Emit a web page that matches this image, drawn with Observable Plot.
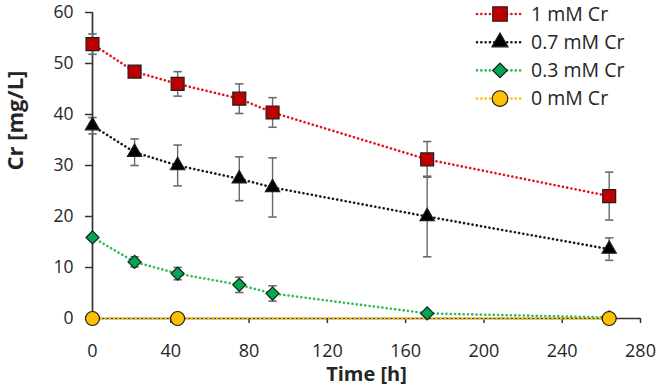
<!DOCTYPE html>
<html>
<head>
<meta charset="utf-8">
<script src="https://cdn.jsdelivr.net/npm/d3@7"></script>
<script src="https://cdn.jsdelivr.net/npm/@observablehq/plot@0.6"></script>
<style>
  html, body { margin: 0; padding: 0; background: #fff; }
  #chart { width: 661px; height: 390px; }
  #chart svg { overflow: visible; }
</style>
</head>
<body>
<div id="chart"></div>
<script>
// Sampling times (h)
const times = [0, 21.5, 43.5, 75, 92, 171, 264];

// Cr concentration (mg/L) and standard deviation per treatment
const cr1 = [53.8, 48.4, 46.0, 43.1, 40.4, 31.2, 24.0];
const cr1Err = [2.0, 0.8, 2.4, 2.9, 2.9, 3.5, 4.7];
const cr07 = [37.8, 32.6, 30.0, 27.4, 25.7, 20.0, 13.6];
const cr07Err = [1.6, 2.6, 4.0, 4.3, 5.8, 7.9, 2.2];
const cr03 = [15.9, 11.1, 8.8, 6.6, 4.9, 1.0, 0.2];
const cr03Err = [0.4, 1.0, 1.2, 1.5, 1.5, 0.3, 0];
const times0 = [0, 43.5, 264];
const cr0 = [0, 0, 0];
const cr0Err = [0, 0, 0];

// Series labels and axis ticks
const seriesNames = ["1 mM Cr", "0.7 mM Cr", "0.3 mM Cr", "0 mM Cr"];
const xTicks = [0, 40, 80, 120, 160, 200, 240, 280];
const yTicks = [0, 10, 20, 30, 40, 50, 60];

// Styling per series
const styles = [
  {line: "#e3141c", fill: "#c00000", symbol: "square", r: 7.3, rotate: 0},
  {line: "#1a1a1a", fill: "#000000", symbol: "triangle", r: 5.3, rotate: 0},
  {line: "#2ebd4e", fill: "#00a84f", symbol: "square", r: 5.2, rotate: 45},
  {line: "#ffc000", fill: "#ffc000", symbol: "circle", r: 7, rotate: 0}
];

const build = (ts, vs, es, name) => ts.map((t, i) => ({t, v: vs[i], e: es[i], name}));
const series = [
  build(times, cr1, cr1Err, seriesNames[0]),
  build(times, cr07, cr07Err, seriesNames[1]),
  build(times, cr03, cr03Err, seriesNames[2]),
  build(times0, cr0, cr0Err, seriesNames[3])
];

// Horizontal cap for error bars; half-width equals the dot radius
const capSymbol = {
  draw(context, size) {
    const w = Math.sqrt(size / Math.PI);
    context.moveTo(-w, 0);
    context.lineTo(w, 0);
  }
};

const axisColor = "#333333";
const textColor = "#262626";

const marks = [
  Plot.axisX({ticks: xTicks, tickSize: 5, tickPadding: 21, label: null, stroke: axisColor, strokeWidth: 1.5, fill: textColor, fontSize: 18}),
  Plot.axisY({ticks: yTicks, tickSize: 7, tickPadding: 12, label: null, stroke: axisColor, strokeWidth: 1.5, fill: textColor, fontSize: 17.5}),
  Plot.ruleX([0], {stroke: axisColor, strokeWidth: 1.7}),
  Plot.ruleY([0], {stroke: axisColor, strokeWidth: 1.7})
];

// Dotted connecting lines
series.forEach((s, i) => {
  marks.push(Plot.line(s, {
    x: "t", y: "v", stroke: styles[i].line, strokeWidth: 2.6,
    strokeDasharray: "0.1 4.2", strokeLinecap: "round"
  }));
});

// Error bars
series.forEach((s) => {
  const withErr = s.filter(d => d.e > 0);
  marks.push(Plot.ruleX(withErr, {x: "t", y1: d => d.v - d.e, y2: d => d.v + d.e, stroke: "#6a6a6a", strokeWidth: 1.4}));
  marks.push(Plot.dot(withErr, {x: "t", y: d => d.v + d.e, symbol: capSymbol, r: 4.2, stroke: "#6a6a6a", strokeWidth: 1.6}));
  marks.push(Plot.dot(withErr, {x: "t", y: d => d.v - d.e, symbol: capSymbol, r: 4.2, stroke: "#6a6a6a", strokeWidth: 1.6}));
});

// Markers
series.forEach((s, i) => {
  const st = styles[i];
  marks.push(Plot.dot(s, {
    x: "t", y: "v", symbol: st.symbol, r: st.r, rotate: st.rotate,
    fill: st.fill, stroke: "#1e1e1e", strokeWidth: 1.2
  }));
});

// Axis titles
marks.push(Plot.text(["Time [h]"], {
  frameAnchor: "bottom", dy: 56, lineAnchor: "middle",
  fontWeight: "bold", fontSize: 20, fill: textColor
}));
marks.push(Plot.text(["Cr [mg/L]"], {
  frameAnchor: "left", rotate: -90, dx: -77, dy: 5, lineAnchor: "middle",
  fontWeight: "bold", fontSize: 22, fill: textColor
}));

// Legend in the upper-right corner of the plot area
marks.push(() => {
  const g = d3.create("svg:g").attr("text-anchor", "start");
  const x0 = 477, x1 = 523, xm = 500, xt = 531, y0 = 14, step = 28.2;
  seriesNames.forEach((name, i) => {
    const st = styles[i];
    const y = y0 + i * step;
    const row = g.append("g").attr("transform", `translate(0,${y})`);
    row.append("line")
      .attr("x1", x0).attr("x2", x1).attr("y1", 0).attr("y2", 0)
      .attr("stroke", st.line).attr("stroke-width", 2.6)
      .attr("stroke-dasharray", "0.1 4.2").attr("stroke-linecap", "round");
    const type = {square: d3.symbolSquare, triangle: d3.symbolTriangle, circle: d3.symbolCircle}[st.symbol];
    const r = st.r * 1.12;
    row.append("path")
      .attr("d", d3.symbol(type, Math.PI * r * r)())
      .attr("transform", `translate(${xm},0) rotate(${st.rotate})`)
      .attr("fill", st.fill).attr("stroke", "#1e1e1e").attr("stroke-width", 1.2);
    row.append("text")
      .attr("x", xt).attr("y", 0).attr("dy", "0.35em")
      .attr("text-anchor", "start")
      .attr("fill", textColor).attr("font-size", 19.5)
      .text(name);
  });
  return g.node();
});

const chart = Plot.plot({
  width: 661,
  height: 390,
  marginLeft: 92,
  marginRight: 21,
  marginTop: 12,
  marginBottom: 72,
  x: {domain: [0, 280]},
  y: {domain: [0, 60]},
  style: {fontFamily: "'Open Sans', sans-serif", fontSize: "18px", color: textColor, background: "#fff"},
  marks
});
document.getElementById("chart").appendChild(chart);
</script>
</body>
</html>
